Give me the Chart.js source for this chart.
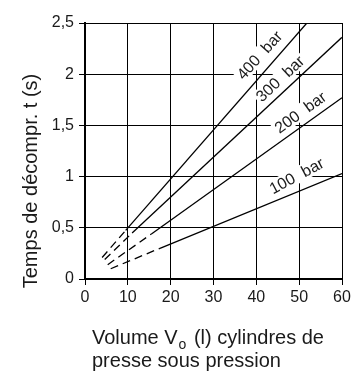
<!DOCTYPE html>
<html>
<head>
<meta charset="utf-8">
<script src="https://cdn.jsdelivr.net/npm/chart.js@4.4.1/dist/chart.umd.min.js"></script>
<style>
  html, body { margin: 0; padding: 0; background: #fff; }
</style>
</head>
<body>
<canvas id="chart" width="364" height="372"></canvas>
<script>
// curves: start of curve, end of dashed part, end of curve
const pressures = ['400 bar', '300 bar', '200 bar', '100 bar'];
const volume400 = [4.0, 9.5, 51.8];
const time400 = [0.21, 0.475, 2.5];
const volume300 = [4.6, 11.0, 60];
const time300 = [0.19, 0.45, 2.36];
const volume200 = [5.3, 15.5, 60];
const time200 = [0.14, 0.44, 1.77];
const volume100 = [6.0, 17.5, 60];
const time100 = [0.10, 0.30, 1.03];

const xTicks = [0, 10, 20, 30, 40, 50, 60];
const yTicks = [0, 0.5, 1, 1.5, 2, 2.5];

const FONT = "'Liberation Sans', Arial, sans-serif";
const INK = '#1a1a1a';

function toPoints(xs, ys) {
  return xs.map((x, i) => ({ x: x, y: ys[i] }));
}

const curves = [
  toPoints(volume400, time400),
  toPoints(volume300, time300),
  toPoints(volume200, time200),
  toPoints(volume100, time100)
];

// where each pressure label sits (data units) and its slant
const labelPlace = [
  { x: 40.9, y: 2.18, angle: -48 },
  { x: 45.7, y: 1.95, angle: -43 },
  { x: 50.4, y: 1.62, angle: -36 },
  { x: 49.5, y: 1.0, angle: -28 }
];

// white-backed labels along the curves, drawn over the grid but under the lines
const curveLabels = {
  id: 'curveLabels',
  beforeDatasetsDraw(chart) {
    const c = chart.ctx;
    const xs = chart.scales.x, ys = chart.scales.y;
    c.save();
    c.font = '16px ' + FONT;
    c.wordSpacing = '5px';
    pressures.forEach((txt, i) => {
      const p = labelPlace[i];
      const px = xs.getPixelForValue(p.x);
      const py = ys.getPixelForValue(p.y);
      const w = c.measureText(txt).width;
      c.save();
      c.translate(px, py);
      c.rotate(p.angle * Math.PI / 180);
      c.fillStyle = '#fff';
      c.fillRect(-w / 2 - 2, -9, w + 4, 16);
      c.fillStyle = INK;
      c.textAlign = 'center';
      c.textBaseline = 'middle';
      c.fillText(txt, 0, 0);
      c.restore();
    });
    c.restore();
  }
};

// axis titles, the x title has a subscript so it is drawn by hand
const axisTitles = {
  id: 'axisTitles',
  afterDraw(chart) {
    const c = chart.ctx;
    c.save();
    c.fillStyle = INK;
    c.font = '20px ' + FONT;
    c.textBaseline = 'alphabetic';

    c.save();
    c.translate(37, 181);
    c.rotate(-Math.PI / 2);
    c.textAlign = 'center';
    c.fillText('Temps de décompr. t (s)', 0, 0);
    c.restore();

    c.textAlign = 'left';
    let x = 92;
    const base = 344;
    c.fillText('Volume V', x, base);
    x += c.measureText('Volume V').width + 1;
    c.font = '14px ' + FONT;
    c.fillText('o', x, base + 5);
    x += c.measureText('o').width + 2;
    c.font = '20px ' + FONT;
    c.wordSpacing = '2px';
    c.fillText(' (l) cylindres de', x, base);
    c.wordSpacing = '0px';
    c.fillText('presse sous pression', 92, base + 23);
    c.restore();
  }
};

const ctx = document.getElementById('chart').getContext('2d');
const chart = new Chart(ctx, {
  type: 'line',
  data: {
    datasets: curves.map((pts, i) => ({
      label: pressures[i],
      data: pts,
      borderColor: '#000',
      borderWidth: 1.3,
      pointRadius: 0,
      tension: 0,
      fill: false,
      segment: {
        borderDash: c => c.p0DataIndex === 0 ? [8, 5] : undefined
      }
    }))
  },
  options: {
    responsive: false,
    animation: false,
    layout: { padding: { left: 0, right: 22, top: 23, bottom: 0 } },
    plugins: {
      legend: { display: false },
      tooltip: { enabled: false }
    },
    scales: {
      x: {
        type: 'linear',
        min: 0,
        max: 60,
        afterBuildTicks: s => { s.ticks = xTicks.map(v => ({ value: v })); },
        afterFit: s => { s.height = 93; },
        grid: { color: '#000', lineWidth: 1, tickLength: 6, tickColor: '#000' },
        border: { color: '#000', width: 2 },
        ticks: {
          color: INK,
          font: { family: FONT, size: 16 },
          padding: 3,
          maxRotation: 0,
          callback: v => String(v)
        }
      },
      y: {
        min: 0,
        max: 2.5,
        afterBuildTicks: s => { s.ticks = yTicks.map(v => ({ value: v })); },
        afterFit: s => { s.width = 85; },
        grid: { color: '#000', lineWidth: 1, tickLength: 6, tickColor: '#000' },
        border: { color: '#000', width: 2 },
        ticks: {
          color: INK,
          font: { family: FONT, size: 16 },
          padding: 5,
          callback: v => String(v).replace('.', ',')
        }
      }
    }
  },
  plugins: [curveLabels, axisTitles]
});
</script>
</body>
</html>
